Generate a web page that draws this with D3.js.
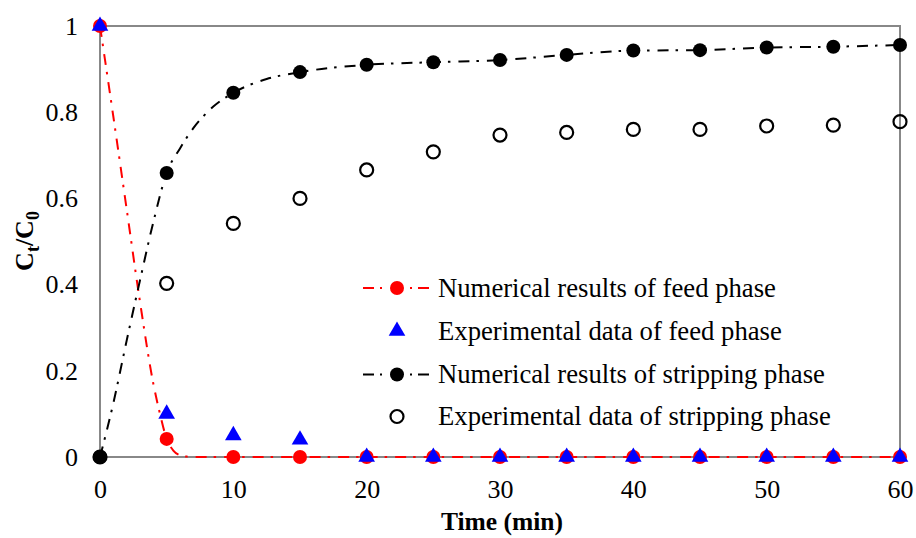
<!DOCTYPE html>
<html>
<head>
<meta charset="utf-8">
<script src="https://cdn.jsdelivr.net/npm/d3@7"></script>
<style>
  html, body { margin: 0; padding: 0; background: #fff; }
  svg { display: block; font-family: "Liberation Serif", "Times New Roman", serif; }
</style>
</head>
<body>
<svg id="chart" width="916" height="538"></svg>
<script>
// Sampling times (min) of the markers
const time = [0, 5, 10, 15, 20, 25, 30, 35, 40, 45, 50, 55, 60];

// Marker values Ct/C0
const feedNumerical = [1, 0.042, 0, 0, 0, 0, 0, 0, 0, 0, 0, 0, 0];
const feedExperimental = [1, 0.10, 0.05, 0.04, 0, 0, 0, 0, 0, 0, 0, 0, 0];
const stripNumerical = [0, 0.659, 0.845, 0.893, 0.910, 0.916, 0.921, 0.933, 0.943, 0.944, 0.950, 0.952, 0.956];
const stripExperimental = [0, 0.403, 0.542, 0.600, 0.666, 0.708, 0.747, 0.753, 0.760, 0.760, 0.768, 0.770, 0.778];

// Model curves (finer sampling of the numerical solution)
const feedCurveTime = [0, 1, 2, 3, 4, 4.5, 5, 5.5, 6, 6.5, 7, 10, 15, 20, 30, 40, 50, 60];
const feedCurveValue = [1, 0.79, 0.575, 0.36, 0.17, 0.10, 0.042, 0.015, 0.004, 0.001, 0, 0, 0, 0, 0, 0, 0, 0];
const stripCurveTime = [0, 1, 2, 3, 4, 5, 6, 7, 8.5, 10, 12.5, 15, 20, 25, 30, 35, 40, 45, 50, 55, 60];
const stripCurveValue = [0, 0.125, 0.27, 0.41, 0.545, 0.659, 0.716, 0.763, 0.813, 0.845, 0.877, 0.893, 0.910, 0.916, 0.921, 0.933, 0.943, 0.944, 0.950, 0.952, 0.956];

// Axis ticks
const xTicks = [0, 10, 20, 30, 40, 50, 60];
const xTickLabels = ["0", "10", "20", "30", "40", "50", "60"];
const yTicks = [0, 0.2, 0.4, 0.6, 0.8, 1];
const yTickLabels = ["0", "0.2", "0.4", "0.6", "0.8", "1"];

const legendLabels = [
  "Numerical results of feed phase",
  "Experimental data of feed phase",
  "Numerical results of stripping phase",
  "Experimental data of stripping phase"
];

const svg = d3.select("#chart");
const plotLeft = 100, plotRight = 900, plotTop = 26, plotBottom = 457;
const x = d3.scaleLinear().domain([0, 60]).range([plotLeft, plotRight]);
const y = d3.scaleLinear().domain([0, 1]).range([plotBottom, plotTop]);

const frameColor = "#888888";
const dashDot = "11,7,2.5,8";
const FONT = 26;
const R = 7;

// Plot frame
svg.append("rect")
  .attr("x", plotLeft).attr("y", plotTop)
  .attr("width", plotRight - plotLeft).attr("height", plotBottom - plotTop)
  .attr("fill", "none").attr("stroke", frameColor).attr("stroke-width", 2);

// Axes (labels only, no tick marks)
const xAxis = d3.axisBottom(x).tickValues(xTicks)
  .tickFormat((d, i) => xTickLabels[i]).tickSize(0).tickPadding(23);
const gx = svg.append("g").attr("transform", `translate(0,${plotBottom})`).call(xAxis);
gx.select(".domain").remove();
gx.selectAll("text").attr("font-size", FONT).attr("fill", "#000")
  .attr("font-family", "Liberation Serif, Times New Roman, serif");

const yAxis = d3.axisLeft(y).tickValues(yTicks)
  .tickFormat((d, i) => yTickLabels[i]).tickSize(0).tickPadding(22);
const gy = svg.append("g").attr("transform", `translate(${plotLeft},0)`).call(yAxis);
gy.select(".domain").remove();
gy.selectAll("text").attr("font-size", FONT).attr("fill", "#000")
  .attr("font-family", "Liberation Serif, Times New Roman, serif");

// Axis titles
svg.append("text")
  .attr("x", 502).attr("y", 530)
  .attr("text-anchor", "middle")
  .attr("font-size", 25.5).attr("font-weight", "bold")
  .text("Time (min)");

const yt = svg.append("text")
  .attr("transform", "translate(33,241) rotate(-90)")
  .attr("text-anchor", "middle")
  .attr("font-size", FONT).attr("font-weight", "bold");
yt.append("tspan").text("C");
yt.append("tspan").attr("font-size", 18).attr("dy", 6).text("t");
yt.append("tspan").attr("dy", -6).text("/C");
yt.append("tspan").attr("font-size", 18).attr("dy", 6).text("0");

const line = d3.line().x(d => x(d[0])).y(d => y(d[1])).curve(d3.curveMonotoneX);
const plot = svg.append("g");

// Feed phase: model curve and numerical points
plot.append("path")
  .datum(d3.zip(feedCurveTime, feedCurveValue))
  .attr("d", line)
  .attr("fill", "none").attr("stroke", "#ff0000").attr("stroke-width", 2)
  .attr("stroke-dasharray", dashDot);
plot.selectAll(".feedNum").data(d3.zip(time, feedNumerical)).join("circle")
  .attr("cx", d => x(d[0])).attr("cy", d => y(d[1])).attr("r", R)
  .attr("fill", "#ff0000");

// Feed phase: experimental triangles
const tri = d3.symbol().type(d3.symbolTriangle).size(120);
plot.selectAll(".feedExp").data(d3.zip(time, feedExperimental)).join("path")
  .attr("d", tri)
  .attr("transform", d => `translate(${x(d[0])},${y(d[1])})`)
  .attr("fill", "#0000ff");

// Stripping phase: model curve and numerical points
plot.append("path")
  .datum(d3.zip(stripCurveTime, stripCurveValue))
  .attr("d", line)
  .attr("fill", "none").attr("stroke", "#000").attr("stroke-width", 2)
  .attr("stroke-dasharray", dashDot);

// Stripping phase: experimental open circles
plot.selectAll(".stripExp").data(d3.zip(time, stripExperimental)).join("circle")
  .attr("cx", d => x(d[0])).attr("cy", d => y(d[1])).attr("r", 6.5)
  .attr("fill", "none").attr("stroke", "#000").attr("stroke-width", 2.2);

plot.selectAll(".stripNum").data(d3.zip(time, stripNumerical)).join("circle")
  .attr("cx", d => x(d[0])).attr("cy", d => y(d[1])).attr("r", R)
  .attr("fill", "#000");

// Legend
const legendY = [288, 331, 374.5, 416.5];
const lg = svg.append("g");
const lineDash = "11,6,2,28,2,6,11";
// entry 1
lg.append("line").attr("x1", 363).attr("x2", 430).attr("y1", legendY[0]).attr("y2", legendY[0])
  .attr("stroke", "#ff0000").attr("stroke-width", 2).attr("stroke-dasharray", lineDash);
lg.append("circle").attr("cx", 397).attr("cy", legendY[0]).attr("r", R).attr("fill", "#ff0000");
// entry 2
lg.append("path").attr("d", tri).attr("transform", `translate(397,${legendY[1]})`).attr("fill", "#0000ff");
// entry 3
lg.append("line").attr("x1", 363).attr("x2", 430).attr("y1", legendY[2]).attr("y2", legendY[2])
  .attr("stroke", "#000").attr("stroke-width", 2).attr("stroke-dasharray", lineDash);
lg.append("circle").attr("cx", 397).attr("cy", legendY[2]).attr("r", R).attr("fill", "#000");
// entry 4
lg.append("circle").attr("cx", 397).attr("cy", legendY[3]).attr("r", 6.5)
  .attr("fill", "none").attr("stroke", "#000").attr("stroke-width", 2.2);

lg.selectAll(".lt").data(legendLabels).join("text")
  .attr("x", 438).attr("y", (d, i) => legendY[i])
  .attr("dy", "0.33em")
  .attr("font-size", 26.7).attr("fill", "#000")
  .text(d => d);
</script>
</body>
</html>
